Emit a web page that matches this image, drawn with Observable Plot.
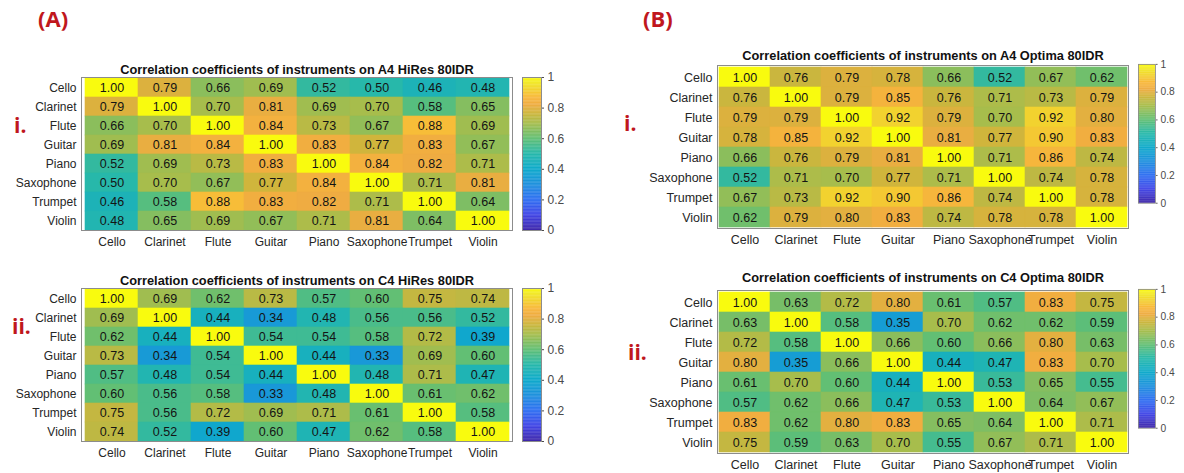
<!DOCTYPE html>
<html>
<head>
<meta charset="utf-8">
<script src="https://cdn.jsdelivr.net/npm/d3@7"></script>
<script src="https://cdn.jsdelivr.net/npm/@observablehq/plot@0.6"></script>
<style>
  body { margin: 0; background: #fff; }
  #root { position: relative; width: 1184px; height: 473px; overflow: hidden;
          font-family: "Liberation Sans", Arial, sans-serif; }
  .panel { position: absolute; }
  .tag { position: absolute; color: #c0171d; font-weight: bold;
         font-family: "Open Sans", "Liberation Sans", sans-serif; line-height: 1; }
</style>
</head>
<body>
<div id="root"></div>
<script>
// Instruments compared in every matrix (rows and columns share this order)
const instruments = ["Cello", "Clarinet", "Flute", "Guitar", "Piano", "Saxophone", "Trumpet", "Violin"];

// Correlation matrices, one row per instrument
const a4HiRes = [
  [1.00, 0.79, 0.66, 0.69, 0.52, 0.50, 0.46, 0.48],
  [0.79, 1.00, 0.70, 0.81, 0.69, 0.70, 0.58, 0.65],
  [0.66, 0.70, 1.00, 0.84, 0.73, 0.67, 0.88, 0.69],
  [0.69, 0.81, 0.84, 1.00, 0.83, 0.77, 0.83, 0.67],
  [0.52, 0.69, 0.73, 0.83, 1.00, 0.84, 0.82, 0.71],
  [0.50, 0.70, 0.67, 0.77, 0.84, 1.00, 0.71, 0.81],
  [0.46, 0.58, 0.88, 0.83, 0.82, 0.71, 1.00, 0.64],
  [0.48, 0.65, 0.69, 0.67, 0.71, 0.81, 0.64, 1.00]
];
const c4HiRes = [
  [1.00, 0.69, 0.62, 0.73, 0.57, 0.60, 0.75, 0.74],
  [0.69, 1.00, 0.44, 0.34, 0.48, 0.56, 0.56, 0.52],
  [0.62, 0.44, 1.00, 0.54, 0.54, 0.58, 0.72, 0.39],
  [0.73, 0.34, 0.54, 1.00, 0.44, 0.33, 0.69, 0.60],
  [0.57, 0.48, 0.54, 0.44, 1.00, 0.48, 0.71, 0.47],
  [0.60, 0.56, 0.58, 0.33, 0.48, 1.00, 0.61, 0.62],
  [0.75, 0.56, 0.72, 0.69, 0.71, 0.61, 1.00, 0.58],
  [0.74, 0.52, 0.39, 0.60, 0.47, 0.62, 0.58, 1.00]
];
const a4Optima = [
  [1.00, 0.76, 0.79, 0.78, 0.66, 0.52, 0.67, 0.62],
  [0.76, 1.00, 0.79, 0.85, 0.76, 0.71, 0.73, 0.79],
  [0.79, 0.79, 1.00, 0.92, 0.79, 0.70, 0.92, 0.80],
  [0.78, 0.85, 0.92, 1.00, 0.81, 0.77, 0.90, 0.83],
  [0.66, 0.76, 0.79, 0.81, 1.00, 0.71, 0.86, 0.74],
  [0.52, 0.71, 0.70, 0.77, 0.71, 1.00, 0.74, 0.78],
  [0.67, 0.73, 0.92, 0.90, 0.86, 0.74, 1.00, 0.78],
  [0.62, 0.79, 0.80, 0.83, 0.74, 0.78, 0.78, 1.00]
];
const c4Optima = [
  [1.00, 0.63, 0.72, 0.80, 0.61, 0.57, 0.83, 0.75],
  [0.63, 1.00, 0.58, 0.35, 0.70, 0.62, 0.62, 0.59],
  [0.72, 0.58, 1.00, 0.66, 0.60, 0.66, 0.80, 0.63],
  [0.80, 0.35, 0.66, 1.00, 0.44, 0.47, 0.83, 0.70],
  [0.61, 0.70, 0.60, 0.44, 1.00, 0.53, 0.65, 0.55],
  [0.57, 0.62, 0.66, 0.47, 0.53, 1.00, 0.64, 0.67],
  [0.83, 0.62, 0.80, 0.83, 0.65, 0.64, 1.00, 0.71],
  [0.75, 0.59, 0.63, 0.70, 0.55, 0.67, 0.71, 1.00]
];

const titles = [
  "Correlation coefficients of instruments on A4 HiRes 80IDR",
  "Correlation coefficients of instruments on C4 HiRes 80IDR",
  "Correlation coefficients of instruments on A4 Optima 80IDR",
  "Correlation coefficients of instruments on C4 Optima 80IDR"
];
const colorbarTicks = [0, 0.2, 0.4, 0.6, 0.8, 1];

// Parula-like colormap
const parulaScale = d3.scaleLinear()
  .domain([0.00, 0.10, 0.20, 0.30, 0.40, 0.50, 0.60, 0.70, 0.77, 0.82, 0.87, 0.92, 0.96, 1.00])
  .range(["#3e26a8", "#4146e6", "#2f6ff2", "#1e90dd", "#0eaacb", "#27b8aa", "#62bf74", "#a7bd4c",
          "#d0b53c", "#efac42", "#f8b83a", "#f2d22f", "#f1e626", "#f9fb0e"])
  .interpolate(d3.interpolateRgb)
  .clamp(true);
const parula = t => parulaScale(t);
const colorOpts = {type: "linear", domain: [0, 1], interpolate: parula};

const root = document.getElementById("root");

function place(node, left, top) {
  const wrap = document.createElement("div");
  wrap.className = "panel";
  wrap.style.left = left + "px";
  wrap.style.top = top + "px";
  wrap.appendChild(node);
  root.appendChild(wrap);
}

function heatmap(matrix, title, o) {
  const cells = [];
  matrix.forEach((row, i) => row.forEach((v, j) => cells.push({row: instruments[i], col: instruments[j], value: v})));
  const plot = Plot.plot({
    width: o.marginLeft + o.frameW + o.marginRight,
    height: o.marginTop + o.frameH + o.marginBottom,
    marginLeft: o.marginLeft,
    marginRight: o.marginRight,
    marginTop: o.marginTop,
    marginBottom: o.marginBottom,
    style: {fontFamily: "'Liberation Sans', Arial, sans-serif", fontSize: o.tickFont + "px", color: "#262626", background: "transparent"},
    x: {domain: instruments, padding: 0, tickSize: 0, tickPadding: 7, label: null},
    y: {domain: instruments, padding: 0, tickSize: 0, tickPadding: 5, label: null},
    color: colorOpts,
    marks: [
      Plot.cell(cells, {x: "col", y: "row", fill: "value", stroke: "value", strokeWidth: 0.6, inset: 0}),
      Plot.text(cells, {x: "col", y: "row", text: d => d.value.toFixed(2), fill: "#141414", fontSize: 12.5}),
      Plot.frame({stroke: "#8c8c8c", strokeWidth: 1}),
      Plot.text([title], {frameAnchor: "top", lineAnchor: "middle", dy: -o.titleGap,
                          fontWeight: "bold", fontSize: 12.8, fill: "#111"})
    ]
  });
  place(plot, o.left, o.top);
}

function colorbar(o) {
  const step = 0.005;
  const stripes = d3.range(0, 1, step);
  const plot = Plot.plot({
    width: o.barW + 34,
    height: o.frameH + 14,
    marginLeft: 0,
    marginRight: 34,
    marginTop: 7,
    marginBottom: 7,
    style: {fontFamily: "'Liberation Sans', Arial, sans-serif", fontSize: "12px", color: "#4a4a4a", background: "transparent"},
    y: {domain: [0, 1], axis: "right", ticks: colorbarTicks, tickSize: 2, tickPadding: 4,
        tickFormat: d => String(+d.toFixed(1)), label: null},
    color: colorOpts,
    marks: [
      Plot.rect(stripes, {y1: d => d, y2: d => Math.min(1, d + step + 0.002), fill: d => d + step / 2}),
      Plot.frame({stroke: "#8c8c8c"})
    ]
  });
  place(plot, o.left, o.top - 7);
}

// Panel (A): HiRes
heatmap(a4HiRes, titles[0], {left: 0, top: 50, marginLeft: 81, marginRight: 8, marginTop: 27, marginBottom: 25, frameW: 431, frameH: 153, titleGap: 8, tickFont: 12});
heatmap(c4HiRes, titles[1], {left: 0, top: 261, marginLeft: 81, marginRight: 8, marginTop: 27, marginBottom: 25, frameW: 431, frameH: 153, titleGap: 8, tickFont: 12});
colorbar({left: 522, top: 77, barW: 19, frameH: 153});
colorbar({left: 522, top: 288, barW: 19, frameH: 153});

// Panel (B): Optima
heatmap(a4Optima, titles[2], {left: 600, top: 38, marginLeft: 117, marginRight: 8, marginTop: 27, marginBottom: 25, frameW: 411, frameH: 163, titleGap: 10, tickFont: 12.5});
heatmap(c4Optima, titles[3], {left: 600, top: 263, marginLeft: 117, marginRight: 8, marginTop: 27, marginBottom: 20, frameW: 411, frameH: 163, titleGap: 13, tickFont: 12.5});
colorbar({left: 1138, top: 65, barW: 20, frameH: 163});
colorbar({left: 1138, top: 290, barW: 20, frameH: 163});

// Panel and row tags
const tags = [
  {text: "(A)", x: 38, y: 7, size: 22},
  {text: "(B)", x: 643, y: 7, size: 22},
  {text: "i.", x: 14, y: 115, size: 21},
  {text: "ii.", x: 12, y: 316, size: 21},
  {text: "i.", x: 624, y: 113, size: 21},
  {text: "ii.", x: 628, y: 342, size: 21}
];
for (const t of tags) {
  const el = document.createElement("div");
  el.className = "tag";
  el.textContent = t.text;
  el.style.left = t.x + "px";
  el.style.top = t.y + "px";
  el.style.fontSize = t.size + "px";
  root.appendChild(el);
}
</script>
</body>
</html>
